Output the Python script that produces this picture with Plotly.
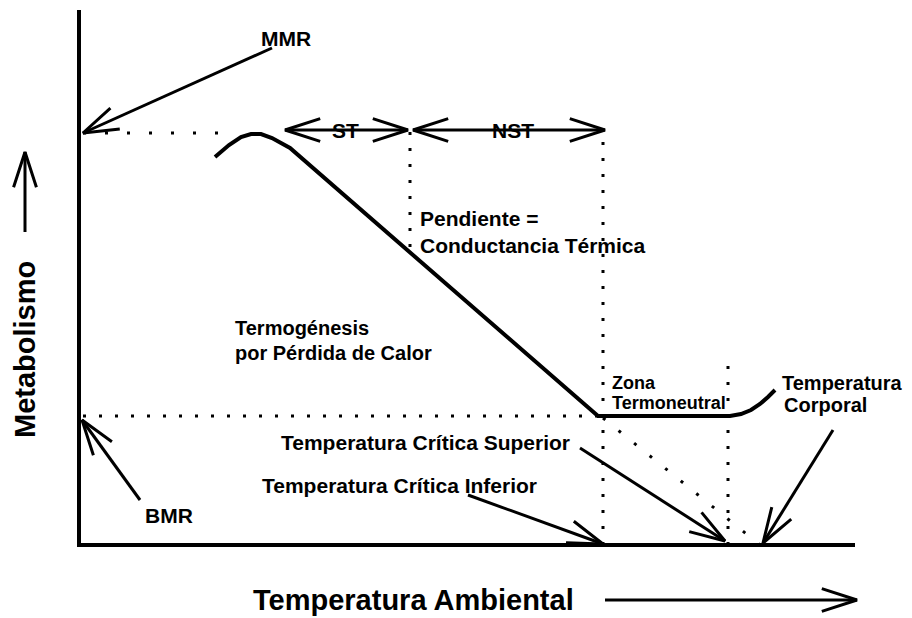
import numpy as np
import plotly.graph_objects as go

# ---- schematic data (ambient temperature -> metabolism), in chart units ----
temp = [136, 150, 162, 172, 182, 193, 211, 519, 651, 662, 672, 681, 689, 696]
metab = [388, 400, 408, 411, 411, 407, 397, 129, 129, 131, 135, 141, 148, 155]

mmr_level = 412      # maximum metabolic rate
bmr_level = 129      # basal metabolic rate
x_st_end = 331       # boundary ST / NST
x_lct = 524          # lower critical temperature
x_uct = 649          # upper critical temperature
x_body = 681         # body temperature (extrapolated conductance line)
x_axis_max = 776
y_axis_max = 535

# arrows: (tail_x, tail_y, head_x, head_y, double_headed)
arrows = [
    (193, 497, 4, mmr_level, False),      # MMR
    (61, 45, 3, 125, False),              # BMR
    (206, 415, 329, 415, True),           # ST
    (334, 415, 526, 415, True),           # NST
    (501, 97, 646, 4, False),             # T. crítica superior
    (389, 50, 524, 1, False),             # T. crítica inferior
    (754, 115, 684, 2, False),            # T. corporal
    (-54, 313, -54, 393, False),          # y axis title arrow
    (526, -55, 778, -55, False),          # x axis title arrow
]

FONT = "Liberation Sans, Arial, sans-serif"
PAGE_OFFSET = 8  # default body margin of the html page


def v_head(tx, ty, hx, hy, length=37, half_angle=np.deg2rad(18)):
    th = np.arctan2(ty - hy, tx - hx)
    xs = [hx + length * np.cos(th + half_angle), hx, hx + length * np.cos(th - half_angle)]
    ys = [hy + length * np.sin(th + half_angle), hy, hy + length * np.sin(th - half_angle)]
    return xs, ys


fig = go.Figure()

# axes frame
fig.add_trace(go.Scatter(x=[0, 0, x_axis_max], y=[y_axis_max, 0, 0], mode="lines",
                         line=dict(color="black", width=4), hoverinfo="skip"))

# dotted guide lines
dotted = [
    ([4, 156], [mmr_level, mmr_level], "3px,19px"),
    ([4, x_lct - 5], [bmr_level, bmr_level], "3px,13px"),
    ([x_st_end, x_st_end], [298, 425], "3px,13px"),
    ([x_lct, x_lct], [0, 415], "3px,13px"),
    ([x_uct, x_uct], [0, 183], "3px,13px"),
    ([x_lct, x_body], [127, 0], "3px,17px"),
]
for xs, ys, d in dotted:
    fig.add_trace(go.Scatter(x=xs, y=ys, mode="lines",
                             line=dict(color="black", width=3, dash=d), hoverinfo="skip"))

# metabolic curve
fig.add_trace(go.Scatter(x=temp, y=metab, mode="lines",
                         line=dict(color="black", width=4), hoverinfo="skip"))

# arrows
ax, ay = [], []
for tx, ty, hx, hy, dbl in arrows:
    ax += [tx, hx, None]
    ay += [ty, hy, None]
    hxs, hys = v_head(tx, ty, hx, hy)
    ax += hxs + [None]
    ay += hys + [None]
    if dbl:
        hxs, hys = v_head(hx, hy, tx, ty)
        ax += hxs + [None]
        ay += hys + [None]
fig.add_trace(go.Scatter(x=ax, y=ay, mode="lines",
                         line=dict(color="black", width=3), hoverinfo="skip"))

labels = [
    ("MMR", 207, 507, "center", 21),
    ("BMR", 90, 30, "center", 21),
    ("ST", 266, 415, "center", 21),
    ("NST", 434, 415, "center", 21),
    ("Pendiente =", 339, 327, "left", 21),
    ("Conductancia Térmica", 339, 300, "left", 21),
    ("Termogénesis", 154, 217, "left", 20),
    ("por Pérdida de Calor", 154, 192, "left", 20),
    ("Zona", 531, 162, "left", 18),
    ("Termoneutral", 531, 142, "left", 18),
    ("Temperatura", 701, 162, "left", 20),
    ("Corporal", 703, 140, "left", 20),
    ("Temperatura Crítica Superior", 346, 103, "center", 21),
    ("Temperatura Crítica Inferior", 320, 60, "center", 21),
    ("Temperatura Ambiental", 334, -55, "center", 29),
]
for txt, x, y, anchor, size in labels:
    fig.add_annotation(x=x, y=y, text=txt, showarrow=False, xanchor=anchor, yanchor="middle",
                       font=dict(family=FONT, size=size, color="black", weight=700))

fig.add_annotation(x=-54, y=195, text="Metabolismo", showarrow=False, textangle=-90,
                   xanchor="center", yanchor="middle",
                   font=dict(family=FONT, size=29, color="black", weight=700))

W, H = 912, 618
x0 = -79 + PAGE_OFFSET
y1 = 545 - PAGE_OFFSET
fig.update_layout(
    width=W, height=H,
    margin=dict(l=0, r=0, t=0, b=0),
    paper_bgcolor="white", plot_bgcolor="white",
    showlegend=False,
    xaxis=dict(range=[x0, x0 + W], visible=False, fixedrange=True),
    yaxis=dict(range=[y1 - H, y1], visible=False, fixedrange=True),
)

fig.write_html("out.html")
